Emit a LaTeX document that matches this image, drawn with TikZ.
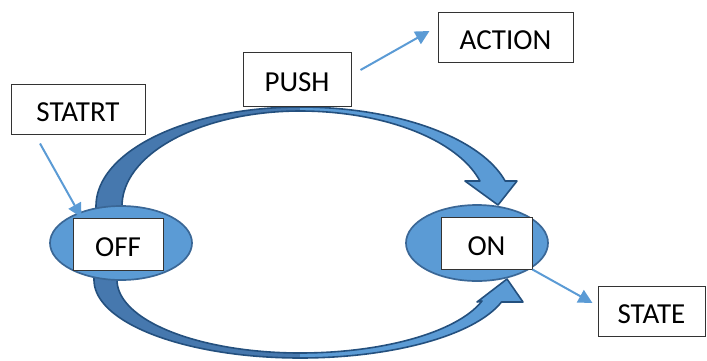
\documentclass[tikz,border=0pt]{standalone}
\usepackage{fontspec}
\setmainfont{Carlito}
\usetikzlibrary{shapes.geometric,arrows.meta,calc}
\definecolor{lblue}{HTML}{5B9BD5}
\definecolor{dblue}{HTML}{3A6796}
\definecolor{sblue}{HTML}{4678AE}
\definecolor{oblue}{HTML}{24507E}
\begin{document}
\begin{tikzpicture}[x=1pt,y=-1pt,
  lbox/.style={draw=black!80, line width=1pt, fill=white, font=\fontsize{29}{31}\selectfont, text height=24pt, text depth=0pt, inner sep=0pt},
  stateell/.style={ellipse, draw=dblue, line width=1.7pt, fill=lblue, inner sep=0pt},
  link/.style={draw=lblue, line width=2pt, -{Triangle[length=14pt,width=14pt]}},
  bigarrow/.style={draw=oblue, line width=1.6pt, line join=round}]
\useasboundingbox (0,0) rectangle (707,360);

% ---- top curved arrow (OFF -> ON)
\fill[sblue] (96,222) -- plot[domain=180:90, samples=40, smooth] ({300+204*cos(\x)},{206-99*sin(\x)})
  -- plot[domain=90:180, samples=40, smooth] ({300+178*cos(\x)},{206-95*sin(\x)}) -- (122,222) -- cycle;
\fill[lblue] plot[domain=90:14.63, samples=40, smooth] ({300+212*cos(\x)},{206-99*sin(\x)})
  -- (517,181) -- (498,205) -- (465,181) -- (479.9,181)
  -- plot[domain=15.26:90, samples=40, smooth] ({300+186.5*cos(\x)},{206-95*sin(\x)}) -- cycle;
\draw[bigarrow] (96,222) -- plot[domain=180:90, samples=40, smooth] ({300+204*cos(\x)},{206-99*sin(\x)})
  -- plot[domain=90:14.63, samples=40, smooth] ({300+212*cos(\x)},{206-99*sin(\x)})
  -- (517,181) -- (498,205) -- (465,181) -- (479.9,181)
  -- plot[domain=15.26:90, samples=40, smooth] ({300+186.5*cos(\x)},{206-95*sin(\x)})
  -- plot[domain=90:180, samples=40, smooth] ({300+178*cos(\x)},{206-95*sin(\x)}) -- (122,222);

% ---- bottom curved arrow (OFF -> ON)
\fill[sblue] (94,268) -- plot[domain=180:270, samples=40, smooth] ({300+206*cos(\x)},{280-78*sin(\x)})
  -- plot[domain=270:180, samples=40, smooth] ({300+183*cos(\x)},{280-73*sin(\x)}) -- (117,268) -- cycle;
\fill[lblue] plot[domain=270:343.62, samples=40, smooth] ({300+210*cos(\x)},{280-78*sin(\x)})
  -- (523,302) -- (507,279) -- (477,302) -- (482,301)
  -- plot[domain=343.28:270, samples=40, smooth] ({300+190*cos(\x)},{280-73*sin(\x)}) -- cycle;
\draw[bigarrow] (94,268) -- plot[domain=180:270, samples=40, smooth] ({300+206*cos(\x)},{280-78*sin(\x)})
  -- plot[domain=270:343.62, samples=40, smooth] ({300+210*cos(\x)},{280-78*sin(\x)})
  -- (523,302) -- (507,279) -- (477,302) -- (482,301)
  -- plot[domain=343.28:270, samples=40, smooth] ({300+190*cos(\x)},{280-73*sin(\x)})
  -- plot[domain=270:180, samples=40, smooth] ({300+183*cos(\x)},{280-73*sin(\x)}) -- (117,268);

% ---- states
\node[stateell, minimum width=142pt, minimum height=74pt] (offell) at (121,243) {};
\node[stateell, minimum width=142pt, minimum height=76pt] (onell) at (477,243) {};
\node[lbox, minimum width=90pt, minimum height=52pt] (offbox) at (118,244) {OFF};
\node[lbox, minimum width=91pt, minimum height=52pt] (onbox) at (486.5,243) {ON};

% ---- labels
\node[lbox, minimum width=134pt, minimum height=50pt] (start) at (78,109) {STATRT};
\node[lbox, minimum width=108pt, minimum height=54pt] (push) at (297,79) {PUSH};
\node[lbox, minimum width=135pt, minimum height=50pt] (action) at (505.5,37) {ACTION};
\node[lbox, minimum width=107pt, minimum height=50pt] (statebox) at (651.5,311) {STATE};

% ---- small arrows
\draw[link] ([shift={(-38,9)}]start.south) -- ([xshift=9pt]offbox.north west);
\draw[link] ([shift={(9,-9)}]push.east) -- ([shift={(-8,-6)}]action.west);
\draw[link] (onbox.south east) -- ([shift={(-5,-8)}]statebox.west);
\end{tikzpicture}
\end{document}
